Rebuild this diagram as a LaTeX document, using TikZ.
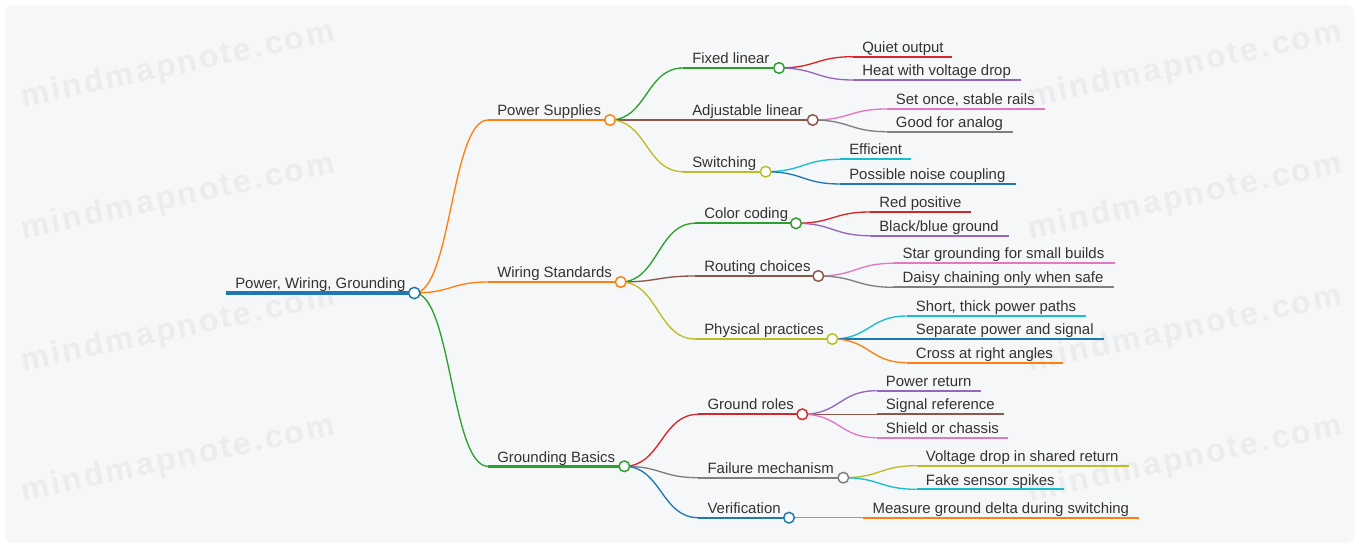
\documentclass[tikz,border=0pt]{standalone}
\usepackage{fontspec}
\setmainfont{Liberation Sans}
\newfontfamily\wmfont[LetterSpace=8]{Liberation Sans}
\usetikzlibrary{calc}

% palette
\definecolor{cblue}{HTML}{1F77B4}
\definecolor{corange}{HTML}{FF7F0E}
\definecolor{cgreen}{HTML}{2CA02C}
\definecolor{cred}{HTML}{D62728}
\definecolor{cpurple}{HTML}{9467BD}
\definecolor{cbrown}{HTML}{8C564B}
\definecolor{cpink}{HTML}{E377C2}
\definecolor{cgray}{HTML}{7F7F7F}
\definecolor{colive}{HTML}{BCBD22}
\definecolor{ccyan}{HTML}{17BECF}
\definecolor{ink}{HTML}{333333}
\definecolor{paper}{HTML}{F6F7F9}
\definecolor{mark}{HTML}{EBECEE}

\tikzset{
  lbl/.style={anchor=base west, inner sep=0pt, text=ink,
              font=\fontsize{11.2pt}{13pt}\selectfont},
  conn/.style={line width=1pt, draw=#1},
  lvlone/.style={line width=1.8pt},
  lvltwo/.style={line width=1.5pt},
  dot/.style={circle, draw=#1, fill=white, line width=1.1pt,
              minimum size=8pt, inner sep=0pt},
  wmark/.style={text=mark, rotate=12, inner sep=0pt,
                font=\wmfont\fontsize{24pt}{28pt}\selectfont\bfseries},
}

% #1 parent, #2 name, #3 start x, #4 y, #5 end x, #6 colour, #7 width style, #8 text
\newcommand\mmtopic[8]{%
  \coordinate (#2-in) at (#3,#4);
  \coordinate (#2) at (#5,#4);
  \draw[conn=#6] (#1) .. controls +(37,0) and +(-37,0) .. (#2-in);
  \draw[draw=#6, #7] (#2-in) -- (#2);
  \node[lbl] (#2-t) at (#3+9,#4-4.3) {#8};
}

\begin{document}
\begin{tikzpicture}[x=0.75pt, y=-0.75pt]
  % canvas
  \fill[white] (0,0) rectangle (1359,548);
  \useasboundingbox (0,0) rectangle (1359,548);
  \fill[paper, rounded corners=6] (5,5) rectangle (1354,543);

  % watermark
  \foreach \wx in {178,1185}
    \foreach \wy in {66,198,330,460}
      \node[wmark] at (\wx,\wy) {mindmapnote.com};

  % root
  \coordinate (root-in) at (226,293);
  \coordinate (root) at (414.3,293);
  \draw[draw=cblue, line width=3pt] (root-in) -- (root);
  \node[lbl] (root-t) at (235,288.8) {Power, Wiring, Grounding};

  % first level
  \mmtopic{root}{ps}{488}{120}{610}{corange}{lvlone}{Power Supplies}
  \mmtopic{root}{ws}{488}{282}{620.7}{corange}{lvlone}{Wiring Standards}
  \mmtopic{root}{gb}{488}{466.3}{624.3}{cgreen}{lvlone}{Grounding Basics}

  % power supplies
  \mmtopic{ps}{fl}{683}{68}{779}{cgreen}{lvltwo}{Fixed linear}
  \mmtopic{ps}{al}{683}{120}{812.7}{cbrown}{lvltwo}{Adjustable linear}
  \mmtopic{ps}{sw}{683}{171.7}{765.7}{colive}{lvltwo}{Switching}
  \mmtopic{fl}{qo}{853}{56.7}{952}{cred}{lvltwo}{Quiet output}
  \mmtopic{fl}{hv}{853}{80}{1020.7}{cpurple}{lvltwo}{Heat with voltage drop}
  \mmtopic{al}{so}{886.7}{109}{1045}{cpink}{lvltwo}{Set once, stable rails}
  \mmtopic{al}{ga}{886.7}{131.7}{1012.7}{cgray}{lvltwo}{Good for analog}
  \mmtopic{sw}{ef}{840}{159.3}{910.7}{ccyan}{lvltwo}{Efficient}
  \mmtopic{sw}{pn}{840}{184}{1016}{cblue}{lvltwo}{Possible noise coupling}

  % wiring standards
  \mmtopic{ws}{cc}{695}{223.3}{796}{cgreen}{lvltwo}{Color coding}
  \mmtopic{ws}{rc}{695}{276}{818.3}{cbrown}{lvltwo}{Routing choices}
  \mmtopic{ws}{pp}{695}{339}{832.3}{colive}{lvltwo}{Physical practices}
  \mmtopic{cc}{rp}{870}{212}{970.7}{cred}{lvltwo}{Red positive}
  \mmtopic{cc}{bb}{870}{235.7}{1009}{cpurple}{lvltwo}{Black/blue ground}
  \mmtopic{rc}{sg}{893.3}{263.3}{1115}{cpink}{lvltwo}{Star grounding for small builds}
  \mmtopic{rc}{dc}{893.3}{287.3}{1114}{cgray}{lvltwo}{Daisy chaining only when safe}
  \mmtopic{pp}{st}{906.7}{316}{1086}{ccyan}{lvltwo}{Short, thick power paths}
  \mmtopic{pp}{sp}{906.7}{339}{1104}{cblue}{lvltwo}{Separate power and signal}
  \mmtopic{pp}{cr}{906.7}{362.7}{1063.3}{corange}{lvltwo}{Cross at right angles}

  % grounding basics
  \mmtopic{gb}{gr}{698.3}{414.3}{802.3}{cred}{lvltwo}{Ground roles}
  \mmtopic{gb}{fm}{698.3}{477.7}{843.3}{cgray}{lvltwo}{Failure mechanism}
  \mmtopic{gb}{vf}{698.3}{517.7}{789}{cblue}{lvltwo}{Verification}
  \mmtopic{gr}{pr}{876.7}{390.7}{981}{cpurple}{lvltwo}{Power return}
  \mmtopic{gr}{sr}{876.7}{414.3}{1004}{cbrown}{lvltwo}{Signal reference}
  \mmtopic{gr}{sc}{876.7}{437.7}{1007.7}{cpink}{lvltwo}{Shield or chassis}
  \mmtopic{fm}{vd}{916.7}{465.7}{1128.7}{colive}{lvltwo}{Voltage drop in shared return}
  \mmtopic{fm}{fs}{916.7}{489.3}{1064}{ccyan}{lvltwo}{Fake sensor spikes}
  \mmtopic{vf}{mg}{863.3}{517.7}{1139.3}{corange}{lvltwo}{Measure ground delta during switching}

  % joint markers on top of the lines
  \node[dot=cblue, minimum size=8.5pt] at (root) {};
  \foreach \n/\c in {ps/corange, ws/corange, gb/cgreen,
                     fl/cgreen, al/cbrown, sw/colive,
                     cc/cgreen, rc/cbrown, pp/colive,
                     gr/cred, fm/cgray, vf/cblue}
    \node[dot=\c] at (\n) {};
\end{tikzpicture}
\end{document}
